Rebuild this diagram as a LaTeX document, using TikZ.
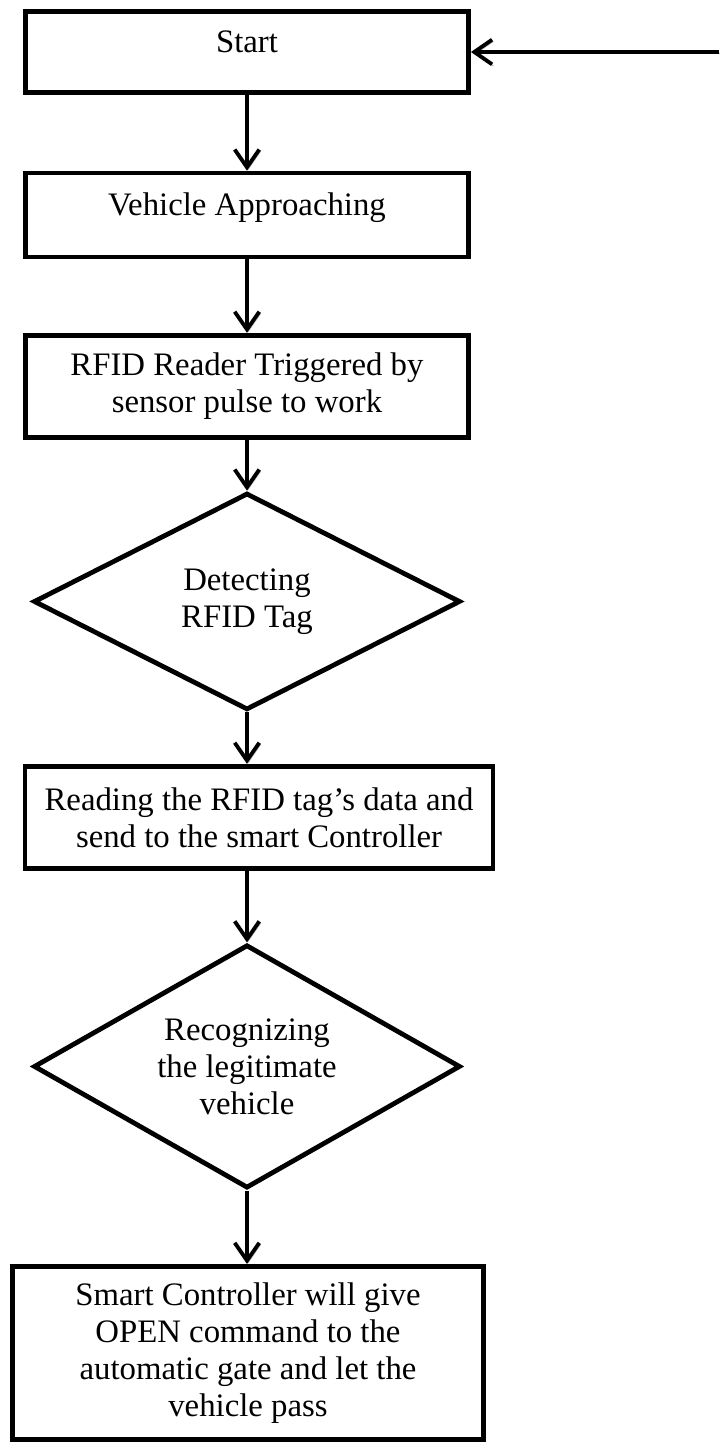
\documentclass[tikz,border=0pt]{standalone}
\usepackage{fontspec}
\setmainfont{Liberation Serif}
\usetikzlibrary{shapes.geometric, arrows.meta, positioning}

\tikzset{
  stepbox/.style={draw, line width=1.75pt, rectangle, align=center, inner sep=0pt,
    font=\fontsize{12}{13.6}\selectfont},
  topbox/.style={stepbox, text height=8pt, text depth=8pt},
  decision/.style={draw, line width=1.75pt, diamond, aspect=1.8, align=center, inner sep=0pt,
    font=\fontsize{12}{13.6}\selectfont},
  flow/.style={line width=1.4pt, -{Straight Barb[length=6.5pt,width=9pt,line width=1.4pt]},
    preaction={draw=gray!55, transform canvas={shift={(0.5pt,-0.6pt)}}}}
}

\begin{document}
\begin{tikzpicture}
\useasboundingbox (0,0) rectangle (9.249,-18.613);

% process steps
\node[topbox, minimum width=5.70cm, minimum height=1.05cm] (start) at (3.177,-0.669) {Start};
\node[topbox, minimum width=5.70cm, minimum height=1.08cm] (vehicle) at (3.177,-2.766) {Vehicle Approaching};
\node[stepbox, minimum width=5.70cm, minimum height=1.32cm] (reader) at (3.177,-4.972) {RFID Reader Triggered by\\sensor pulse to work};
\node[decision, minimum width=5.49cm, minimum height=2.79cm] (detect) at (3.177,-7.737) {Detecting\\RFID Tag};
\node[stepbox, minimum width=6.02cm, minimum height=1.32cm] (readtag) at (3.332,-10.516) {Reading the RFID tag’s data and\\send to the smart Controller};
\node[decision, minimum width=5.49cm, minimum height=3.13cm] (recog) at (3.177,-13.718) {Recognizing\\the legitimate\\vehicle};
\node[stepbox, minimum width=6.05cm, minimum height=2.23cm] (opengate) at (3.19,-17.404) {Smart Controller will give\\OPEN command to the\\automatic gate and let the\\vehicle pass};

% loop back in
\coordinate (loopin) at (9.249,-0.669);

% arrows
\draw[flow] (start) -- (vehicle);
\draw[flow] (vehicle) -- (reader);
\draw[flow] (reader) -- (detect);
\draw[flow] (detect) -- (detect |- readtag.north);
\draw[flow] (readtag.south -| recog) -- (recog);
\draw[flow] (recog) -- (recog |- opengate.north);
\draw[flow] (loopin) -- (start);

\end{tikzpicture}
\end{document}
